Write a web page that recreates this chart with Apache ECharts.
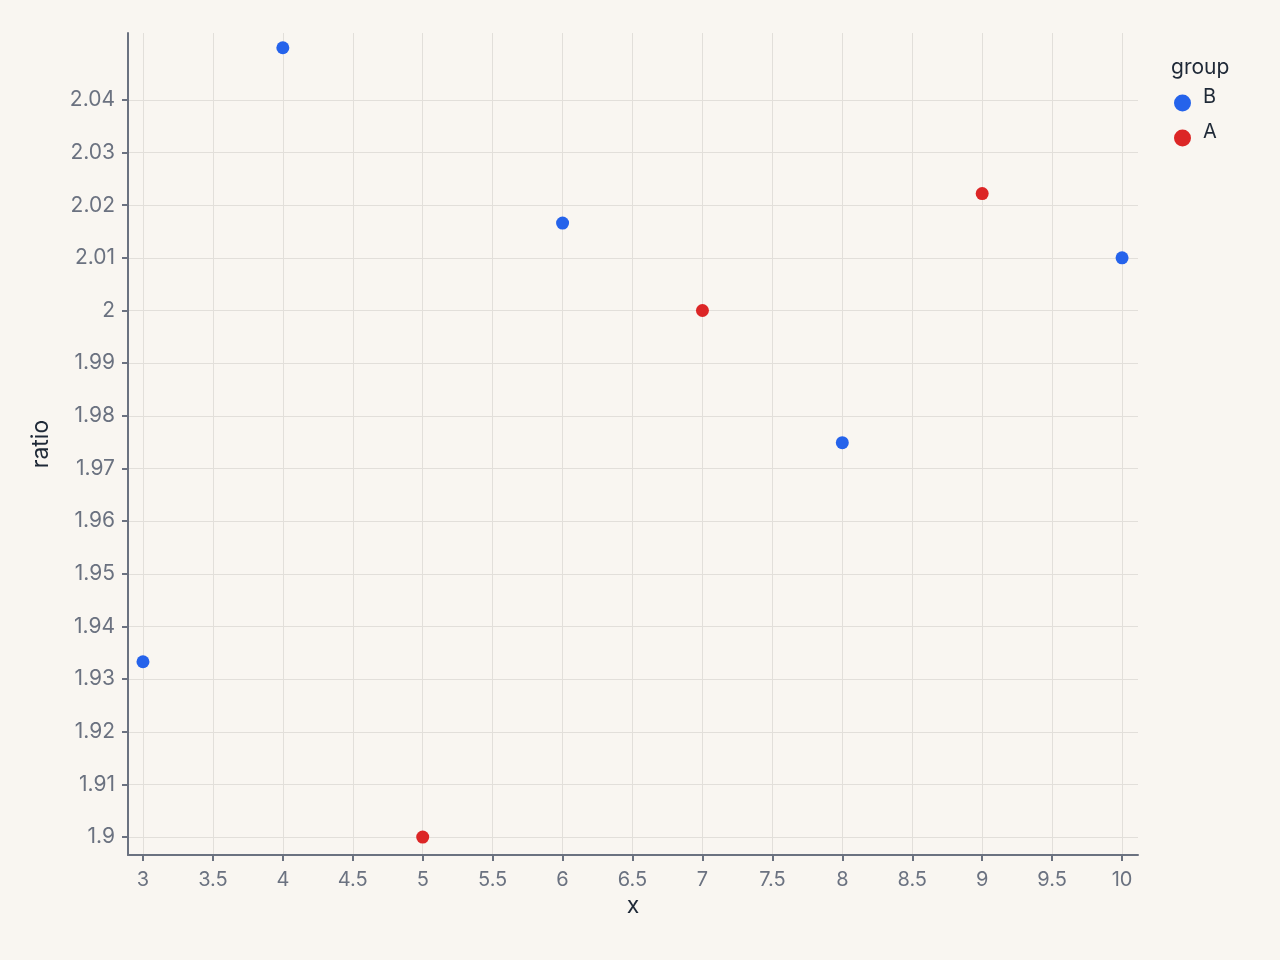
<!DOCTYPE html>
<html>
<head>
<meta charset="utf-8">
<script src="https://cdn.jsdelivr.net/npm/echarts@6/dist/echarts.min.js"></script>
<style>
  html, body { margin: 0; padding: 0; background: #f9f6f1; }
  #main { width: 1280px; height: 960px; }
</style>
</head>
<body>
<div id="main"></div>
<script>
// values
const groupB_x = [3, 4, 6, 8, 10]
const groupB_y = [1.9333, 2.0499, 2.0166, 1.9749, 2.0100]
const groupA_x = [5, 7, 9]
const groupA_y = [1.9000, 2.0000, 2.0222]
const xTicks = [3, 3.5, 4, 4.5, 5, 5.5, 6, 6.5, 7, 7.5, 8, 8.5, 9, 9.5, 10]
const yTicks = [1.9, 1.91, 1.92, 1.93, 1.94, 1.95, 1.96, 1.97, 1.98, 1.99, 2, 2.01, 2.02, 2.03, 2.04]

const pairs = (xs, ys) => xs.map((x, i) => [x, ys[i]])

const axisGrey = '#6b7280'
const gridGrey = '#e2dfda'
const font = 'Inter, "Noto Sans", sans-serif'

const chart = echarts.init(document.getElementById('main'))
chart.setOption({
  backgroundColor: '#f9f6f1',
  animation: false,
  textStyle: { fontFamily: font },
  grid: { left: 128, top: 33, right: 142, bottom: 105, containLabel: false },
  legend: {
    orient: 'vertical',
    left: 1174,
    top: 87,
    padding: 0,
    itemWidth: 17,
    itemHeight: 17,
    itemGap: 3,
    icon: 'circle',
    formatter: '{n|{name}}',
    textStyle: {
      color: '#1f2937',
      rich: { n: { fontSize: 20, color: '#1f2937', fontFamily: font, lineHeight: 14, padding: [0, 0, 12, 7] } }
    },
    data: ['B', 'A']
  },
  graphic: [{
    type: 'text',
    left: 1171,
    top: 57,
    style: { text: 'group', fontSize: 21, fill: '#1f2937', fontFamily: font }
  }],
  xAxis: {
    type: 'value',
    min: 2.893,
    max: 10.114,
    name: 'x',
    nameLocation: 'middle',
    nameGap: 37,
    nameTextStyle: { fontSize: 23, color: '#1f2937' },
    axisLine: { show: true, lineStyle: { color: axisGrey, width: 2 } },
    axisTick: { show: true, length: 6, lineStyle: { color: axisGrey, width: 2 }, customValues: xTicks },
    axisLabel: { fontSize: 20, color: axisGrey, margin: 15, customValues: xTicks },
    splitLine: { show: true, lineStyle: { color: gridGrey, width: 1 } }
  },
  yAxis: {
    type: 'value',
    min: 1.8966,
    max: 2.0527,
    name: 'ratio',
    nameLocation: 'middle',
    nameGap: 75,
    nameTextStyle: { fontSize: 23, color: '#1f2937' },
    axisLine: { show: true, lineStyle: { color: axisGrey, width: 2 } },
    axisTick: { show: true, length: 6, lineStyle: { color: axisGrey, width: 2 }, customValues: yTicks },
    axisLabel: { fontSize: 21, color: axisGrey, margin: 13, customValues: yTicks },
    splitLine: { show: true, lineStyle: { color: gridGrey, width: 1 } }
  },
  series: [
    {
      name: 'B',
      type: 'scatter',
      symbolSize: 13,
      itemStyle: { color: '#2563eb', opacity: 1 },
      data: pairs(groupB_x, groupB_y)
    },
    {
      name: 'A',
      type: 'scatter',
      symbolSize: 13,
      itemStyle: { color: '#dc2626', opacity: 1 },
      data: pairs(groupA_x, groupA_y)
    }
  ]
})
</script>
</body>
</html>
